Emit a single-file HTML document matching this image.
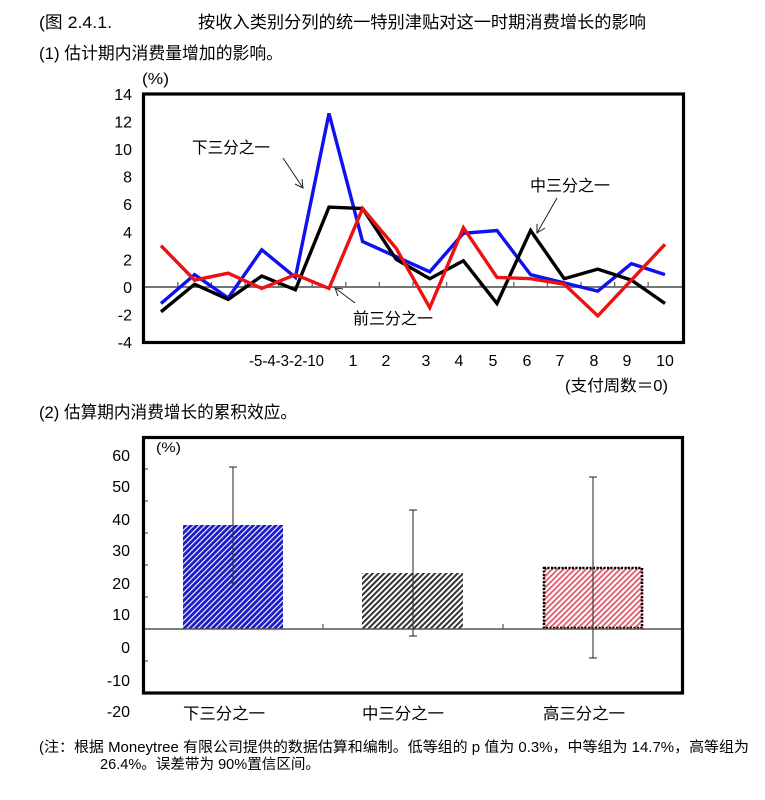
<!DOCTYPE html>
<html><head><meta charset="utf-8"><style>
html,body{margin:0;padding:0;background:#fff;}
svg{display:block;}
text{font-family:"Liberation Sans","Noto Sans CJK SC",sans-serif;fill:#000;}
</style></head><body>
<svg width="765" height="800" viewBox="0 0 765 800" xmlns="http://www.w3.org/2000/svg">
<defs>
<pattern id="pb" patternUnits="userSpaceOnUse" width="4" height="4" patternTransform="rotate(-45)">
<rect width="4" height="4" fill="#1c1cc8"/><rect width="4" height="1.1" fill="#ffffff"/>
</pattern>
<pattern id="pg" patternUnits="userSpaceOnUse" width="4" height="4" patternTransform="rotate(-45)">
<rect width="4" height="4" fill="#ffffff"/><rect width="4" height="2" fill="#333333"/>
</pattern>
<pattern id="pr" patternUnits="userSpaceOnUse" width="4" height="4" patternTransform="rotate(-45)">
<rect width="4" height="4" fill="#ffffff"/><rect width="4" height="1.8" fill="#e05a6a"/>
</pattern>
</defs>

<!-- Titles -->
<text x="39" y="28" font-size="17" textLength="73" lengthAdjust="spacingAndGlyphs">(图 2.4.1.</text>
<text x="198" y="28" font-size="17" textLength="448" lengthAdjust="spacingAndGlyphs">按收入类别分列的统一特别津贴对这一时期消费增长的影响</text>
<text x="39" y="59" font-size="17" textLength="244" lengthAdjust="spacingAndGlyphs">(1) 估计期内消费量增加的影响。</text>
<text x="142" y="84" font-size="16" textLength="27" lengthAdjust="spacingAndGlyphs">(%)</text>

<!-- Top chart y labels -->
<g font-size="16" text-anchor="end">
<text x="132" y="100">14</text>
<text x="132" y="127.5">12</text>
<text x="132" y="155">10</text>
<text x="132" y="182.5">8</text>
<text x="132" y="210">6</text>
<text x="132" y="238">4</text>
<text x="132" y="265.5">2</text>
<text x="132" y="293">0</text>
<text x="132" y="320.5">-2</text>
<text x="132" y="348">-4</text>
</g>

<!-- zero line + ticks -->
<line x1="143" y1="287" x2="683" y2="287" stroke="#777" stroke-width="2"/>
<g stroke="#666" stroke-width="1.3">
<line x1="177.8" y1="282" x2="177.8" y2="287"/><line x1="211.4" y1="282" x2="211.4" y2="287"/>
<line x1="245" y1="282" x2="245" y2="287"/><line x1="278.6" y1="282" x2="278.6" y2="287"/>
<line x1="312.2" y1="282" x2="312.2" y2="287"/><line x1="345.8" y1="282" x2="345.8" y2="287"/>
<line x1="379.4" y1="282" x2="379.4" y2="287"/><line x1="413" y1="282" x2="413" y2="287"/>
<line x1="446.6" y1="282" x2="446.6" y2="287"/><line x1="480.2" y1="282" x2="480.2" y2="287"/>
<line x1="513.8" y1="282" x2="513.8" y2="287"/><line x1="547.4" y1="282" x2="547.4" y2="287"/>
<line x1="581" y1="282" x2="581" y2="287"/><line x1="614.6" y1="282" x2="614.6" y2="287"/>
<line x1="648.2" y1="282" x2="648.2" y2="287"/>
</g>

<!-- series -->
<g fill="none" stroke-width="3.4" stroke-linejoin="miter">
<polyline stroke="#1010f0" points="161,303.5 194.6,274.6 228.2,298 261.8,249.8 295.4,277.4 329,113.4 362.6,241.5 396.2,256.7 429.8,271.8 463.4,233.3 497,230.5 530.6,274.6 564.2,282.9 597.8,291.1 631.4,263.6 665,274.6"/>
<polyline stroke="#000" points="161,311.8 194.6,284.2 228.2,299.4 261.8,276 295.4,289.8 329,207.1 362.6,208.5 396.2,259.4 429.8,278.7 463.4,260.8 497,303.5 530.6,230.5 564.2,278.7 597.8,269.1 631.4,280.1 665,303.5"/>
<polyline stroke="#ee1111" points="161,245.7 194.6,280.1 228.2,273.2 261.8,288.4 295.4,274.6 329,288.4 362.6,208.5 396.2,248.4 429.8,307.7 463.4,227.7 497,277.4 530.6,278.7 564.2,284.2 597.8,315.9 631.4,280.1 665,244.3"/>
</g>

<!-- frame -->
<rect x="143.5" y="94" width="540" height="248.5" fill="none" stroke="#000" stroke-width="3.2"/>

<!-- annotations -->
<text x="192" y="153" font-size="16" textLength="78" lengthAdjust="spacingAndGlyphs">下三分之一</text>
<g stroke="#222" stroke-width="1" fill="none">
<line x1="283" y1="158" x2="303" y2="188"/>
<polyline points="295,184 303,188 302,179"/>
<line x1="355" y1="303" x2="335" y2="288"/>
<polyline points="338,296 335,288 343,289"/>
<line x1="557" y1="198" x2="537" y2="233"/>
<polyline points="537,224 537,233 545,228"/>
</g>
<text x="353" y="324" font-size="16" textLength="80" lengthAdjust="spacingAndGlyphs">前三分之一</text>
<text x="530" y="191" font-size="16" textLength="80" lengthAdjust="spacingAndGlyphs">中三分之一</text>

<!-- x labels -->
<g font-size="16" text-anchor="middle">
<text x="286.5" y="366" textLength="75" lengthAdjust="spacingAndGlyphs">-5-4-3-2-10</text>
<text x="353" y="366">1</text>
<text x="386" y="366">2</text>
<text x="426" y="366">3</text>
<text x="459" y="366">4</text>
<text x="493" y="366">5</text>
<text x="527" y="366">6</text>
<text x="560" y="366">7</text>
<text x="594" y="366">8</text>
<text x="627" y="366">9</text>
<text x="665" y="366">10</text>
</g>
<text x="565" y="391" font-size="16" textLength="103" lengthAdjust="spacingAndGlyphs">(支付周数＝0)</text>

<text x="39" y="418" font-size="17" textLength="258" lengthAdjust="spacingAndGlyphs">(2) 估算期内消费增长的累积效应。</text>

<!-- Bottom chart -->
<g font-size="16" text-anchor="end">
<text x="130" y="461">60</text>
<text x="130" y="492">50</text>
<text x="130" y="525">40</text>
<text x="130" y="556">30</text>
<text x="130" y="589">20</text>
<text x="130" y="620">10</text>
<text x="130" y="653">0</text>
<text x="130" y="686">-10</text>
<text x="130" y="717">-20</text>
</g>
<text x="156" y="452" font-size="14" textLength="25" lengthAdjust="spacingAndGlyphs">(%)</text>

<rect x="183" y="525" width="100" height="104" fill="url(#pb)"/>
<rect x="362" y="573" width="101" height="56" fill="url(#pg)"/>
<rect x="543" y="567" width="100" height="62" fill="url(#pr)"/>
<rect x="544" y="568" width="98" height="60" fill="none" stroke="#000" stroke-width="2.6" stroke-dasharray="2,1.5"/>

<line x1="143" y1="629" x2="683" y2="629" stroke="#555" stroke-width="1.5"/>
<g stroke="#555" stroke-width="1.2">
<line x1="143" y1="469" x2="148" y2="469"/><line x1="143" y1="501" x2="148" y2="501"/>
<line x1="143" y1="533" x2="148" y2="533"/><line x1="143" y1="565" x2="148" y2="565"/>
<line x1="143" y1="597" x2="148" y2="597"/><line x1="143" y1="661" x2="148" y2="661"/>
<line x1="323" y1="624" x2="323" y2="629"/><line x1="503" y1="624" x2="503" y2="629"/>
</g>

<g stroke="#333" stroke-width="1.1">
<line x1="233" y1="467" x2="233" y2="583"/><line x1="229" y1="467" x2="237" y2="467"/><line x1="229" y1="583" x2="237" y2="583"/>
<line x1="413" y1="510" x2="413" y2="636"/><line x1="409" y1="510" x2="417" y2="510"/><line x1="409" y1="636" x2="417" y2="636"/>
<line x1="593" y1="477" x2="593" y2="658"/><line x1="589" y1="477" x2="597" y2="477"/><line x1="589" y1="658" x2="597" y2="658"/>
</g>

<rect x="143.5" y="437.5" width="539" height="255.5" fill="none" stroke="#000" stroke-width="3.2"/>

<g font-size="16" text-anchor="middle">
<text x="224" y="719" textLength="82" lengthAdjust="spacingAndGlyphs">下三分之一</text>
<text x="403" y="719" textLength="82" lengthAdjust="spacingAndGlyphs">中三分之一</text>
<text x="584" y="719" textLength="82" lengthAdjust="spacingAndGlyphs">高三分之一</text>
</g>

<!-- footnote -->
<text x="39" y="752" font-size="14.5" textLength="710" lengthAdjust="spacingAndGlyphs">(注：根据 Moneytree 有限公司提供的数据估算和编制。低等组的 p 值为 0.3%，中等组为 14.7%，高等组为</text>
<text x="100" y="769" font-size="14.5" textLength="220" lengthAdjust="spacingAndGlyphs">26.4%。误差带为 90%置信区间。</text>
</svg>
</body></html>
